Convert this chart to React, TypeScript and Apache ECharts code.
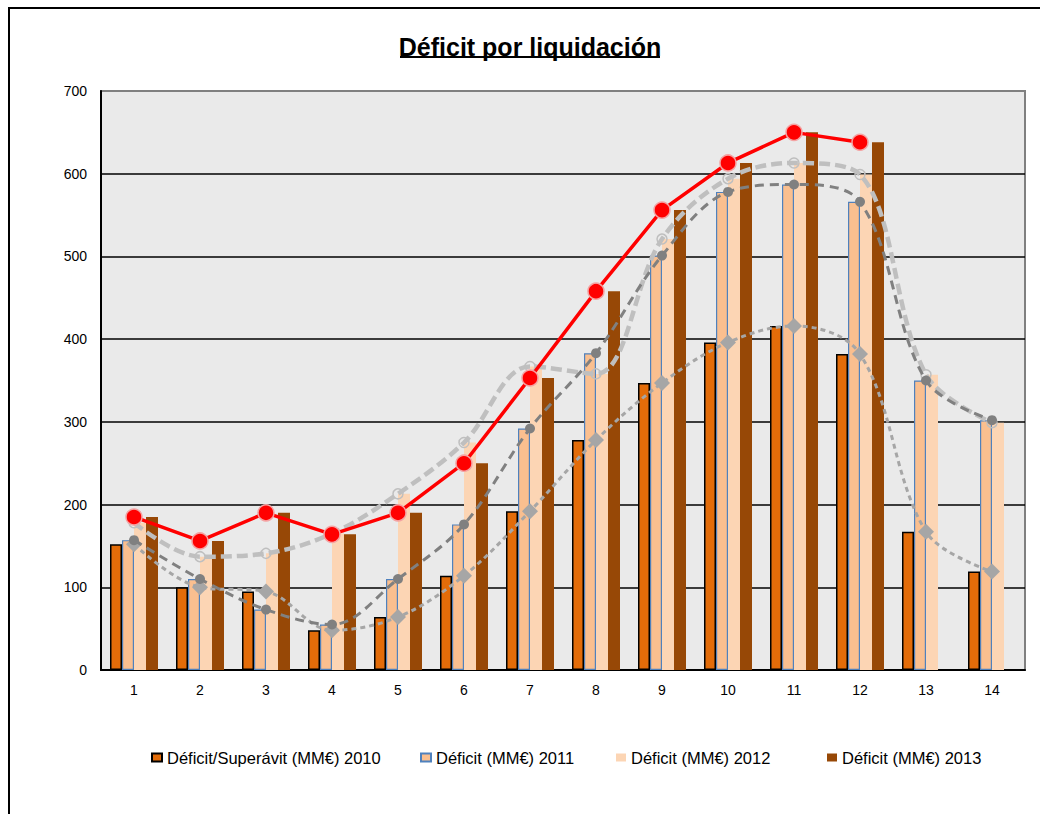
import React, { useEffect, useRef } from 'react';
import * as echarts from 'echarts';

const categories = ['1', '2', '3', '4', '5', '6', '7', '8', '9', '10', '11', '12', '13', '14'];
const yTickMin = 0;
const yTickMax = 700;
const yTickStep = 100;

const seriesNames = [
  'Déficit/Superávit (MM€) 2010',
  'Déficit (MM€) 2011',
  'Déficit (MM€) 2012',
  'Déficit (MM€) 2013',
];

const deficit2010 = [152, 100, 95, 48, 64, 114, 192, 278, 347, 396, 416, 382, 167, 119];
const deficit2011 = [157, 110, 73, 55, 110, 176, 292, 383, 501, 578, 587, 566, 350, 302];
const deficit2012 = [178, 137, 141, 165, 213, 275, 367, 358, 521, 594, 613, 599, 357, 299];
const deficit2013 = [185, 156, 190, 164, 190, 250, 353, 458, 556, 613, 650, 638, null, null];

const FONT = '"Liberation Sans", Arial, sans-serif';
const legendLefts = [146, 415, 611, 822];

export default function App() {
  const ref = useRef<HTMLDivElement>(null);

  useEffect(() => {
    if (!ref.current) return;
    const chart = echarts.init(ref.current, null, { renderer: 'svg' });
    chart.setOption({
      animation: false,
      backgroundColor: '#ffffff',
      title: {
        text: 'Déficit por liquidación',
        left: 525,
        top: 29,
        textAlign: 'center',
        textStyle: { fontFamily: FONT, fontSize: 25, fontWeight: 'bold', color: '#000' },
      },
      graphic: [
        {
          type: 'rect',
          silent: true,
          z: -10,
          shape: { x: 9, y: 8, width: 1100, height: 900 },
          style: { fill: 'none', stroke: '#000', lineWidth: 2 },
        },
        {
          type: 'line',
          silent: true,
          shape: { x1: 400, y1: 57, x2: 660, y2: 57 },
          style: { stroke: '#000', lineWidth: 2 },
        },
      ],
      legend: seriesNames.map((name, i) => ({
        data: [name],
        left: legendLefts[i],
        top: 744,
        icon: 'rect',
        itemWidth: 10,
        itemHeight: 8,
        textStyle: { fontFamily: FONT, fontSize: 16.5, color: '#000' },
      })),
      grid: {
        left: 101,
        right: 15,
        top: 91,
        bottom: 144,
        show: true,
        backgroundColor: '#EAEAEA',
        borderColor: '#808080',
        borderWidth: 2,
      },
      xAxis: {
        type: 'category',
        data: categories,
        axisLine: { lineStyle: { color: '#000', width: 2 } },
        axisTick: { show: false },
        axisLabel: { color: '#000', fontSize: 14, margin: 13, fontFamily: FONT },
      },
      yAxis: {
        type: 'value',
        min: yTickMin,
        max: yTickMax,
        interval: yTickStep,
        axisLine: { show: true, lineStyle: { color: '#000', width: 2 } },
        axisTick: { show: false },
        axisLabel: { color: '#000', fontSize: 14, margin: 14, fontFamily: FONT },
        splitLine: { show: true, showMaxLine: false, showMinLine: false, lineStyle: { color: '#000', width: 1.5 } },
      },
      series: [
        {
          name: seriesNames[0],
          type: 'bar',
          data: deficit2010,
          barWidth: 12,
          barGap: '0%',
          itemStyle: { color: '#E36C09', borderColor: '#000', borderWidth: 1.5 },
        },
        {
          name: seriesNames[1],
          type: 'bar',
          data: deficit2011,
          barWidth: 12,
          barGap: '0%',
          itemStyle: { color: '#FABF8F', borderColor: '#4F81BD', borderWidth: 1.2 },
        },
        {
          name: seriesNames[2],
          type: 'bar',
          data: deficit2012,
          barWidth: 12,
          barGap: '0%',
          itemStyle: { color: '#FCD5B4' },
        },
        {
          name: seriesNames[3],
          type: 'bar',
          data: deficit2013,
          barWidth: 12,
          barGap: '0%',
          itemStyle: { color: '#974806' },
        },
        {
          name: 'Tendencia 2010',
          type: 'line',
          data: deficit2010,
          smooth: 0.35,
          symbol: 'diamond',
          symbolSize: 16,
          lineStyle: { color: '#A6A6A6', width: 3, type: [5, 4] },
          itemStyle: { color: '#A6A6A6' },
          z: 3,
        },
        {
          name: 'Tendencia 2011',
          type: 'line',
          data: deficit2011,
          smooth: 0.35,
          symbol: 'circle',
          symbolSize: 10,
          lineStyle: { color: '#808080', width: 3, type: [9, 6] },
          itemStyle: { color: '#808080' },
          z: 4,
        },
        {
          name: 'Tendencia 2012',
          type: 'line',
          data: deficit2012,
          smooth: 0.35,
          symbol: 'circle',
          symbolSize: 10,
          lineStyle: { color: '#BFBFBF', width: 4.5, type: [11, 5] },
          itemStyle: { color: 'rgba(0,0,0,0)', borderColor: '#BFBFBF', borderWidth: 1.5 },
          z: 3,
        },
        {
          name: 'Tendencia 2013',
          type: 'line',
          data: deficit2013,
          smooth: false,
          symbol: 'circle',
          symbolSize: 16,
          lineStyle: { color: '#FF0000', width: 3.5 },
          itemStyle: { color: '#FF0000', borderColor: '#F4A3A3', borderWidth: 1.5 },
          z: 5,
        },
      ],
    });
    return () => chart.dispose();
  }, []);

  return (
    <div
      ref={ref}
      style={{ position: 'fixed', left: 0, top: 0, width: 1040, height: 814, background: '#fff' }}
    />
  );
}
